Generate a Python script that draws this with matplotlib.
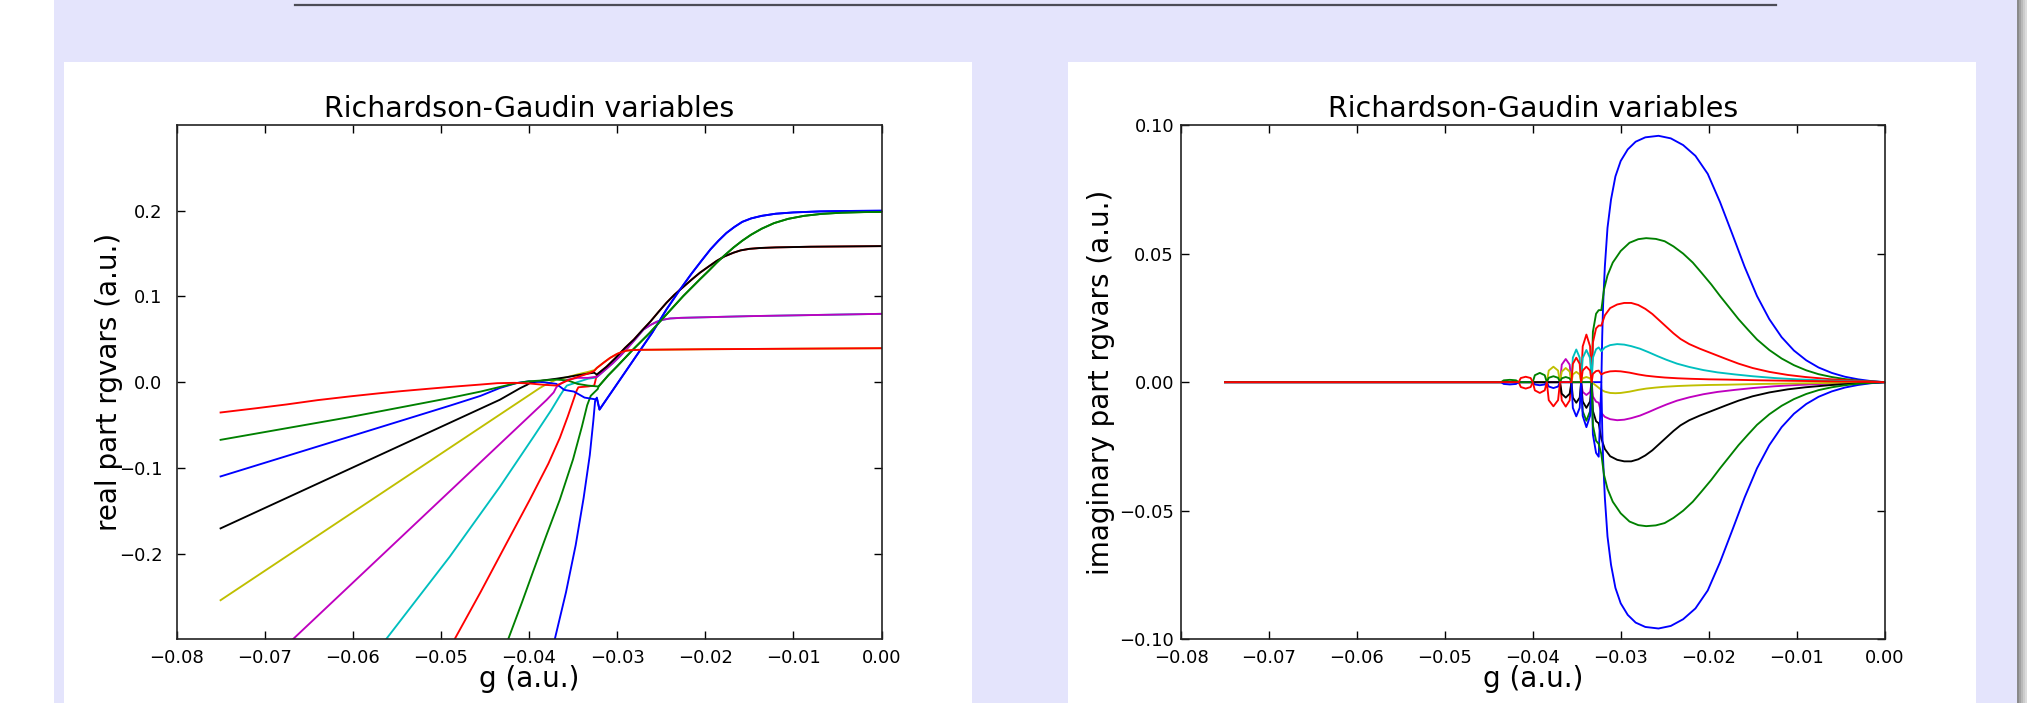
import matplotlib
matplotlib.use("Agg")
import matplotlib.pyplot as plt
from matplotlib.patches import Rectangle

W, H = 2027, 703
colors = ["b", "g", "r", "c", "m", "y", "k", "b", "g", "r"]

# ---------------- real part: final branches shared by each pair ----------------
blue_re_g = [-0.0320, -0.0300, -0.0280, -0.0260, -0.0244, -0.0230, -0.0216, -0.0204, -0.0194, -0.0185, -0.0176,
             -0.0167, -0.0158, -0.0148, -0.0136, -0.0120, -0.0100, -0.0070, -0.0040, 0.0]
blue_re_v = [-0.032, -0.002, 0.028, 0.058, 0.0848, 0.106, 0.126, 0.142, 0.155, 0.165, 0.174,
             0.181, 0.187, 0.191, 0.194, 0.1965, 0.198, 0.1992, 0.1997, 0.200]
green_re_g = [-0.0321, -0.0310, -0.0300, -0.0282, -0.0263, -0.0244, -0.0225, -0.0206, -0.0196, -0.0187, -0.0178,
              -0.0168, -0.0158, -0.0148, -0.0136, -0.0122, -0.0106, -0.0088, -0.0068, -0.0045, -0.0020, 0.0]
green_re_v = [-0.005, 0.008, 0.0185, 0.038, 0.0575, 0.079, 0.1004, 0.120, 0.130, 0.1394, 0.148,
              0.157, 0.165, 0.172, 0.179, 0.1855, 0.1905, 0.194, 0.1963, 0.1977, 0.1984, 0.1986]
rk_re_g = [-0.0323, -0.0312, -0.0302, -0.0291, -0.0281, -0.0272, -0.0262, -0.0253, -0.0244, -0.0235, -0.0225,
           -0.0215, -0.0206, -0.0196, -0.0187, -0.0178, -0.0168, -0.0160, -0.0150, -0.0138, -0.0120, -0.0080, 0.0]
rk_re_v = [0.0088, 0.018, 0.028, 0.040, 0.0497, 0.060, 0.071, 0.082, 0.0926, 0.102, 0.111,
           0.120, 0.1277, 0.135, 0.1415, 0.1468, 0.151, 0.1537, 0.1555, 0.1565, 0.1572, 0.158, 0.1587]
cm_re_g = [-0.0323, -0.0314, -0.0305, -0.0296, -0.0288, -0.0279, -0.0270, -0.0262, -0.0255, -0.0248, -0.0240,
           -0.0228, -0.0150, 0.0]
cm_re_v = [0.006, 0.014, 0.022, 0.031, 0.040, 0.0505, 0.0614, 0.0668, 0.0705, 0.0728, 0.0743,
           0.0750, 0.0770, 0.0797]
ry_re_g = [-0.0323, -0.0315, -0.0308, -0.0300, -0.0294, -0.0289, -0.0283, -0.0275, -0.0200, 0.0]
ry_re_v = [0.0166, 0.023, 0.0283, 0.033, 0.0355, 0.0368, 0.0374, 0.0377, 0.0384, 0.0396]

# ---------------- real part: each variable before pairing ----------------
re0_g = [-0.0377, -0.0371, -0.0358, -0.0347, -0.0338, -0.0331, -0.0327, -0.0325, -0.0323]
re0_v = [-0.323, -0.301, -0.245, -0.190, -0.135, -0.085, -0.045, -0.022, -0.018]
re1_g = [-0.0430, -0.0424, -0.0408, -0.0395, -0.0380, -0.0365, -0.0350, -0.0340, -0.0334, -0.0330, -0.0326, -0.0322]
re1_v = [-0.318, -0.301, -0.257, -0.220, -0.178, -0.137, -0.090, -0.052, -0.027, -0.016, -0.012, -0.008]
re2_g = [-0.0492, -0.0485, -0.0455, -0.0425, -0.0399, -0.0378, -0.0365, -0.0356, -0.0350, -0.0346, -0.0344, -0.0333, -0.0326]
re2_v = [-0.315, -0.301, -0.245, -0.187, -0.137, -0.095, -0.065, -0.040, -0.022, -0.010, -0.006, -0.005, -0.004]
re3_g = [-0.0570, -0.0563, -0.0490, -0.0433, -0.0395, -0.0375, -0.0365, -0.0360, -0.0357, -0.0345, -0.0333, -0.0326]
re3_v = [-0.311, -0.301, -0.2037, -0.122, -0.064, -0.033, -0.016, -0.008, -0.004, 0.0, 0.004, 0.005]
re4_g = [-0.0680, -0.0669, -0.0380, -0.0372, -0.0369, -0.0366, -0.0356, -0.0345, -0.0333, -0.0326]
re4_v = [-0.312, -0.301, -0.0207, -0.012, -0.006, -0.003, 0.003, 0.005, 0.005, 0.006]
re5_g = [-0.075, -0.0402, -0.0388, -0.0383, -0.0369, -0.0356, -0.0345, -0.0333, -0.0326]
re5_v = [-0.2544, -0.0166, -0.007, -0.004, 0.003, 0.006, 0.009, 0.012, 0.014]
re6_g = [-0.075, -0.0433, -0.0410, -0.0402, -0.0399, -0.0384, -0.0369, -0.0356, -0.0345, -0.0333, -0.0326]
re6_v = [-0.1706, -0.0205, -0.007, -0.003, -0.001, 0.002, 0.004, 0.006, 0.008, 0.010, 0.011]
re7_g = [-0.075, -0.0603, -0.049, -0.0455, -0.0433, -0.0414, -0.0400, -0.0384, -0.0369, -0.0360, -0.0349, -0.0337, -0.0325, -0.0323]
re7_v = [-0.110, -0.0634, -0.0275, -0.0160, -0.0068, -0.001, 0.001, 0.000, -0.002, -0.009, -0.011, -0.018, -0.020, -0.019]
re8_g = [-0.075, -0.0603, -0.049, -0.0455, -0.0433, -0.0416, -0.0400, -0.0384, -0.0369, -0.0356, -0.0345, -0.0333, -0.0322]
re8_v = [-0.0673, -0.0407, -0.0185, -0.0110, -0.0056, -0.0015, 0.001, 0.002, 0.003, 0.002, -0.002, -0.004, -0.005]
re9_g = [-0.075, -0.0710, -0.0675, -0.0640, -0.0603, -0.0570, -0.0545, -0.0515, -0.049, -0.0470, -0.0455, -0.0436,
         -0.0416, -0.0400, -0.0384, -0.0369, -0.0356, -0.0345, -0.0333, -0.0326]
re9_v = [-0.0354, -0.0305, -0.026, -0.021, -0.0166, -0.013, -0.0105, -0.0078, -0.0056, -0.0040, -0.0028, -0.0012,
         -0.0008, -0.0015, -0.003, -0.004, 0.002, 0.006, 0.010, 0.013]

# ---------------- imaginary part: final branches (upper member, lower is mirrored) ----------------
blue_im_g = [-0.0322, -0.0321, -0.0320, -0.0318, -0.0315, -0.0311, -0.0306, -0.0300, -0.0292, -0.0283, -0.0272,
             -0.0257, -0.0243, -0.0229, -0.0215, -0.0201, -0.0187, -0.0173, -0.0159, -0.0145, -0.0131, -0.0117,
             -0.0103, -0.0089, -0.0075, -0.0060, -0.0045, -0.0030, -0.0015, 0.0]
blue_im_v = [0.0, 0.018, 0.030, 0.045, 0.060, 0.071, 0.080, 0.086, 0.0905, 0.0935, 0.0952,
             0.0958, 0.0948, 0.0922, 0.0880, 0.0810, 0.0700, 0.0575, 0.0448, 0.0335, 0.0245, 0.0175,
             0.0123, 0.0085, 0.0057, 0.0036, 0.0021, 0.0011, 0.0004, 0.0]
green_im_g = [-0.0322, -0.0319, -0.0315, -0.0309, -0.0300, -0.0290, -0.0280, -0.0271, -0.0260, -0.0250, -0.0240,
              -0.0229, -0.0218, -0.0208, -0.0197, -0.0187, -0.0176, -0.0166, -0.0155, -0.0145, -0.0131, -0.0117,
              -0.0103, -0.0089, -0.0075, -0.0060, -0.0045, -0.0030, 0.0]
green_im_v = [0.028, 0.036, 0.0415, 0.0465, 0.051, 0.0542, 0.0556, 0.0560, 0.0557, 0.0548, 0.0528,
              0.0500, 0.0465, 0.0425, 0.0380, 0.0335, 0.0288, 0.0245, 0.0203, 0.0166, 0.0125, 0.0092,
              0.0066, 0.0046, 0.0031, 0.0020, 0.0012, 0.0006, 0.0]
rk_im_g = [-0.0322, -0.0318, -0.0312, -0.0304, -0.0296, -0.0288, -0.0280, -0.0272, -0.0264, -0.0256, -0.0248,
           -0.0240, -0.0232, -0.0222, -0.0210, -0.0195, -0.0180, -0.0166, -0.0150, -0.0131, -0.0110, -0.0090,
           -0.0060, -0.0030, 0.0]
rk_im_v = [0.022, 0.026, 0.0288, 0.0302, 0.0308, 0.0308, 0.0300, 0.0285, 0.0265, 0.0240, 0.0215,
           0.0190, 0.0168, 0.0148, 0.0130, 0.0110, 0.0090, 0.0072, 0.0055, 0.0040, 0.0028, 0.0020,
           0.0011, 0.0005, 0.0]
cm_im_g = [-0.0322, -0.0318, -0.0312, -0.0304, -0.0296, -0.0288, -0.0278, -0.0268, -0.0258, -0.0248, -0.0236,
           -0.0222, -0.0206, -0.0190, -0.0170, -0.0150, -0.0125, -0.0100, -0.0070, -0.0035, 0.0]
cm_im_v = [0.012, 0.0135, 0.0144, 0.0148, 0.0146, 0.0140, 0.0130, 0.0116, 0.0101, 0.0087, 0.0072,
           0.0059, 0.0047, 0.0038, 0.0030, 0.0023, 0.0016, 0.0011, 0.0007, 0.0003, 0.0]
ry_im_g = [-0.0322, -0.0318, -0.0312, -0.0306, -0.0300, -0.0290, -0.0280, -0.0271, -0.0260, -0.0250, -0.0235,
           -0.0220, -0.0200, -0.0180, -0.0140, -0.0080, 0.0]
ry_im_v = [0.003, 0.0037, 0.0042, 0.0043, 0.0042, 0.0037, 0.0030, 0.0025, 0.0021, 0.0018, 0.0015,
           0.0013, 0.0011, 0.0010, 0.0007, 0.0004, 0.0]

# ---------------- imaginary part: loops before the final pairing ----------------
im0_g = [-0.075, -0.0322]
im0_v = [0.0, 0.0]
im1_g = [-0.075, -0.0345, -0.03432, -0.0339, -0.03348, -0.0333, -0.03316, -0.0328, -0.0325]
im1_v = [0.0, 0.0, -0.0113, -0.015, -0.0113, 0.0, 0.0196, 0.0266, 0.028]
im2_g = [-0.075, -0.0416, -0.04136, -0.0408, -0.04024, -0.0400, -0.0369, -0.0367, -0.03625, -0.0358, -0.0356,
         -0.0345, -0.03432, -0.0339, -0.03348, -0.0333, -0.03316, -0.0328, -0.0325]
im2_v = [0.0, 0.0, -0.0019, -0.0025, -0.0019, 0.0, 0.0, -0.0071, -0.0095, -0.0071, 0.0,
         0.0, 0.0139, 0.0185, 0.0139, 0.0, 0.0154, 0.0209, 0.022]
im3_g = [-0.075, -0.0356, -0.03544, -0.03505, -0.03466, -0.0345, -0.03432, -0.0339, -0.03348, -0.0333, -0.03316, -0.0328, -0.0325]
im3_v = [0.0, 0.0, 0.0095, 0.0127, 0.0095, 0.0, 0.0094, 0.0125, 0.0094, 0.0, 0.0095, 0.0128, 0.0135]
im4_g = [-0.075, -0.0369, -0.0367, -0.03625, -0.0358, -0.0356, -0.0345, -0.03432, -0.0339, -0.03348, -0.0333, -0.03316, -0.0328, -0.0325]
im4_v = [0.0, 0.0, 0.0068, 0.009, 0.0068, 0.0, 0.0, -0.0038, -0.005, -0.0038, 0.0, -0.0056, -0.0076, -0.008]
im5_g = [-0.075, -0.0384, -0.03818, -0.03765, -0.03712, -0.0369, -0.0367, -0.03625, -0.0358, -0.0356,
         -0.03544, -0.03505, -0.03466, -0.0345, -0.03432, -0.0339, -0.03348, -0.0333]
im5_v = [0.0, 0.0, 0.0045, 0.006, 0.0045, 0.0, 0.0041, 0.0055, 0.0041, 0.0,
         0.003, 0.004, 0.003, 0.0, 0.0015, 0.002, 0.0015, 0.0]
im6_g = [-0.075, -0.0369, -0.0367, -0.03625, -0.0358, -0.0356, -0.03544, -0.03505, -0.03466, -0.0345,
         -0.03432, -0.0339, -0.03348, -0.0333, -0.03316, -0.0328, -0.0325]
im6_v = [0.0, 0.0, -0.0045, -0.006, -0.0045, 0.0, -0.006, -0.008, -0.006, 0.0,
         -0.0075, -0.010, -0.0075, 0.0, -0.0112, -0.0152, -0.016]
im7_g = [-0.075, -0.0436, -0.0433, -0.0426, -0.0419, -0.0416, -0.0400, -0.03976, -0.0392, -0.03864, -0.0384,
         -0.03818, -0.03765, -0.03712, -0.0369, -0.0356, -0.03544, -0.03505, -0.03466, -0.0345,
         -0.03432, -0.0339, -0.03348, -0.0333, -0.03316, -0.0328, -0.0325]
im7_v = [0.0, 0.0, -0.0007, -0.0009, -0.0007, 0.0, 0.0, -0.0009, -0.0012, -0.0009, 0.0,
         -0.0017, -0.0023, -0.0017, 0.0, 0.0, -0.010, -0.0133, -0.010, 0.0,
         -0.0131, -0.0175, -0.0131, 0.0, -0.0203, -0.0275, -0.029]
im8_g = [-0.075, -0.0436, -0.0433, -0.0426, -0.0419, -0.0416, -0.0400, -0.03976, -0.0392, -0.03864, -0.0384,
         -0.03818, -0.03765, -0.03712, -0.0369, -0.0367, -0.03625, -0.0358, -0.0356, -0.0333,
         -0.03316, -0.0328, -0.0325]
im8_v = [0.0, 0.0, 0.0007, 0.0009, 0.0007, 0.0, 0.0, 0.0027, 0.0036, 0.0027, 0.0,
         0.0017, 0.0023, 0.0017, 0.0, 0.0015, 0.002, 0.0015, 0.0, 0.0,
         -0.0168, -0.0228, -0.024]
im9_g = [-0.075, -0.0416, -0.04136, -0.0408, -0.04024, -0.0400, -0.03976, -0.0392, -0.03864, -0.0384,
         -0.03818, -0.03765, -0.03712, -0.0369, -0.0356, -0.03544, -0.03505, -0.03466, -0.0345,
         -0.03432, -0.0339, -0.03348, -0.0333, -0.03316, -0.0328, -0.0325]
im9_v = [0.0, 0.0, 0.0016, 0.0021, 0.0016, 0.0, -0.0032, -0.0042, -0.0032, 0.0,
         -0.007, -0.0094, -0.007, 0.0, 0.0, 0.0071, 0.0095, 0.0071, 0.0,
         0.0045, 0.006, 0.0045, 0.0, 0.0032, 0.0043, 0.0045]

# variable -> (own part, pair branch[, sign of imaginary branch])
re_parts = [
    (re0_g, re0_v, blue_re_g, blue_re_v), (re1_g, re1_v, green_re_g, green_re_v),
    (re2_g, re2_v, rk_re_g, rk_re_v), (re3_g, re3_v, cm_re_g, cm_re_v),
    (re4_g, re4_v, cm_re_g, cm_re_v), (re5_g, re5_v, ry_re_g, ry_re_v),
    (re6_g, re6_v, rk_re_g, rk_re_v), (re7_g, re7_v, blue_re_g, blue_re_v),
    (re8_g, re8_v, green_re_g, green_re_v), (re9_g, re9_v, ry_re_g, ry_re_v),
]
im_parts = [
    (im0_g, im0_v, blue_im_g, blue_im_v, 1), (im1_g, im1_v, green_im_g, green_im_v, 1),
    (im2_g, im2_v, rk_im_g, rk_im_v, 1), (im3_g, im3_v, cm_im_g, cm_im_v, 1),
    (im4_g, im4_v, cm_im_g, cm_im_v, -1), (im5_g, im5_v, ry_im_g, ry_im_v, -1),
    (im6_g, im6_v, rk_im_g, rk_im_v, -1), (im7_g, im7_v, blue_im_g, blue_im_v, -1),
    (im8_g, im8_v, green_im_g, green_im_v, -1), (im9_g, im9_v, ry_im_g, ry_im_v, 1),
]

fig = plt.figure(figsize=(W / 100, H / 100), dpi=100, facecolor="white")

# slide background
bg = fig.add_axes([0, 0, 1, 1])
bg.set_xlim(0, W)
bg.set_ylim(H, 0)
bg.axis("off")
bg.add_patch(Rectangle((54, 0), 1963, H, color="#e4e4fc", lw=0))
for i, c in enumerate(["#8a8a8a", "#a2a2a2", "#b9b9b9", "#cccccc", "#dcdcdc"]):
    bg.add_patch(Rectangle((2017 + 2 * i, 0), 2, H, color=c, lw=0))
bg.add_patch(Rectangle((64, 62), 908, 641, color="white", lw=0))
bg.add_patch(Rectangle((1068, 62), 908, 641, color="white", lw=0))
bg.plot([295, 1776], [5, 5], color="#4c4c56", lw=1.6)

bottom = 1 - 639.3 / H
height = (639.3 - 125) / H
ax1 = fig.add_axes([176.5 / W, bottom, 705 / W, height])
ax2 = fig.add_axes([1181 / W, bottom, 703.5 / W, height])

for i in range(10):
    g0, v0, g1, v1 = re_parts[i]
    ax1.plot(g0 + g1, v0 + v1, color=colors[i], lw=1.35)
    g0, v0, g1, v1, s = im_parts[i]
    ax2.plot(g0 + g1, v0 + [s * v for v in v1], color=colors[i], lw=1.35)

ax1.set_xlim(-0.08, 0.0)
ax1.set_ylim(-0.3, 0.3)
ax1.set_yticks([-0.2, -0.1, 0.0, 0.1, 0.2])
ax1.set_ylabel("real part rgvars (a.u.)", fontsize=20, labelpad=-3)
ax2.set_xlim(-0.08, 0.0)
ax2.set_ylim(-0.1, 0.1)
ax2.set_yticks([-0.10, -0.05, 0.0, 0.05, 0.10])
ax2.set_ylabel("imaginary part rgvars (a.u.)", fontsize=20, labelpad=3)

for ax in (ax1, ax2):
    ax.set_xticks([-0.08, -0.07, -0.06, -0.05, -0.04, -0.03, -0.02, -0.01, 0.0])
    ax.set_title("Richardson-Gaudin variables", fontsize=20.5, pad=6)
    ax.set_xlabel("g (a.u.)", fontsize=20, labelpad=-1.5)
    ax.tick_params(direction="in", top=True, right=True, length=6, width=1, labelsize=13, pad=7)
    for sp in ax.spines.values():
        sp.set_linewidth(1.2)
        sp.set_color("#222222")
ax1.tick_params(axis="y", pad=10)
ax2.tick_params(axis="y", pad=5)

fig.savefig("out.png", dpi=100, facecolor="white")
